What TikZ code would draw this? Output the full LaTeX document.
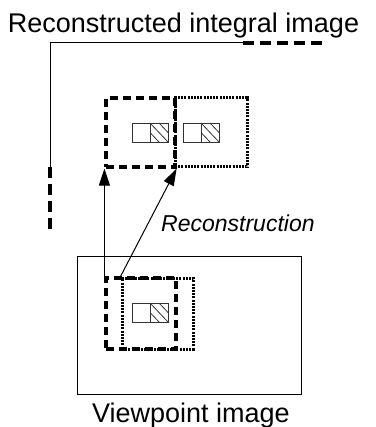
\documentclass[tikz,border=0pt]{standalone}
\usepackage{fontspec}
\setmainfont{Liberation Sans}
\usetikzlibrary{arrows.meta}
\tikzset{
  thinline/.style={line width=1pt, draw=black},
  dashbox/.style={draw, line width=3.2pt, dash pattern=on 8pt off 5pt, minimum width=#1, minimum height=69pt, inner sep=0pt},
  dotbox/.style={draw, line width=3pt, dash pattern=on 2pt off 1.2pt, minimum width=#1, minimum height=69pt, inner sep=0pt},
  arr/.style={line width=1pt, -{Triangle[length=17pt,width=11pt]}},
  lbl/.style={inner sep=0pt, font=\fontsize{27}{30}\selectfont},
  cellpair/.pic={
    \draw[line width=0.8pt, draw=black!80] (0,0) rectangle (18,19);
    \begin{scope}
      \clip (18,0) rectangle (36,19);
      \draw[line width=0.8pt, draw=black!80] (18,0)--(36,19) (27,0)--(45,19) (18,9.5)--(36,28.5) (9,0)--(27,19);
    \end{scope}
    \draw[line width=0.8pt, draw=black!80] (18,0) rectangle (36,19);
  }
}
\begin{document}
\begin{tikzpicture}[x=1pt,y=-1pt]
\useasboundingbox (0,0) rectangle (375,427);
% frame of reconstructed integral image
\coordinate (fc) at (50,43);
\coordinate (fl) at (50,167);
\coordinate (flend) at (50,230);
\coordinate (ft) at (243,43);
\coordinate (ftend) at (327,43);
\draw[thinline] (fl) -- (fc) -- (ft);
\draw[line width=3.2pt, dash pattern=on 11pt off 6pt] (fl) -- (flend);
\draw[line width=3.2pt, dash pattern=on 11pt off 6pt] (ft) -- (ftend);
\node[lbl, anchor=base] (title) at (183.5,33) {Reconstructed integral image};
% reconstructed elemental images
\node[dashbox=69pt] (dashL) at (140.5,132.5) {};
\node[dotbox=72pt] (dotR) at (211,132.5) {};
\pic at (132,123) {cellpair};
\pic at (183,123) {cellpair};
% viewpoint image
\node[thinline, draw, minimum width=224pt, minimum height=138pt, inner sep=0pt] (vp) at (189,325) {};
\node[dashbox=70pt, minimum height=71pt] (vpdash) at (141,313.5) {};
\node[dotbox=71pt, minimum height=71pt] (vpdot) at (157.5,313.5) {};
\pic at (132,303) {cellpair};
\node[lbl, anchor=base] (vplabel) at (191,422) {Viewpoint image};
% arrows
\draw[arr] (vpdash.north west) -- (dashL.south west);
\draw[arr] (vpdot.north west) -- (dashL.south east);
\node[inner sep=0pt, anchor=base west, font=\fontsize{23}{26}\selectfont\itshape] (rec) at (161,231) {Reconstruction};
\end{tikzpicture}
\end{document}
